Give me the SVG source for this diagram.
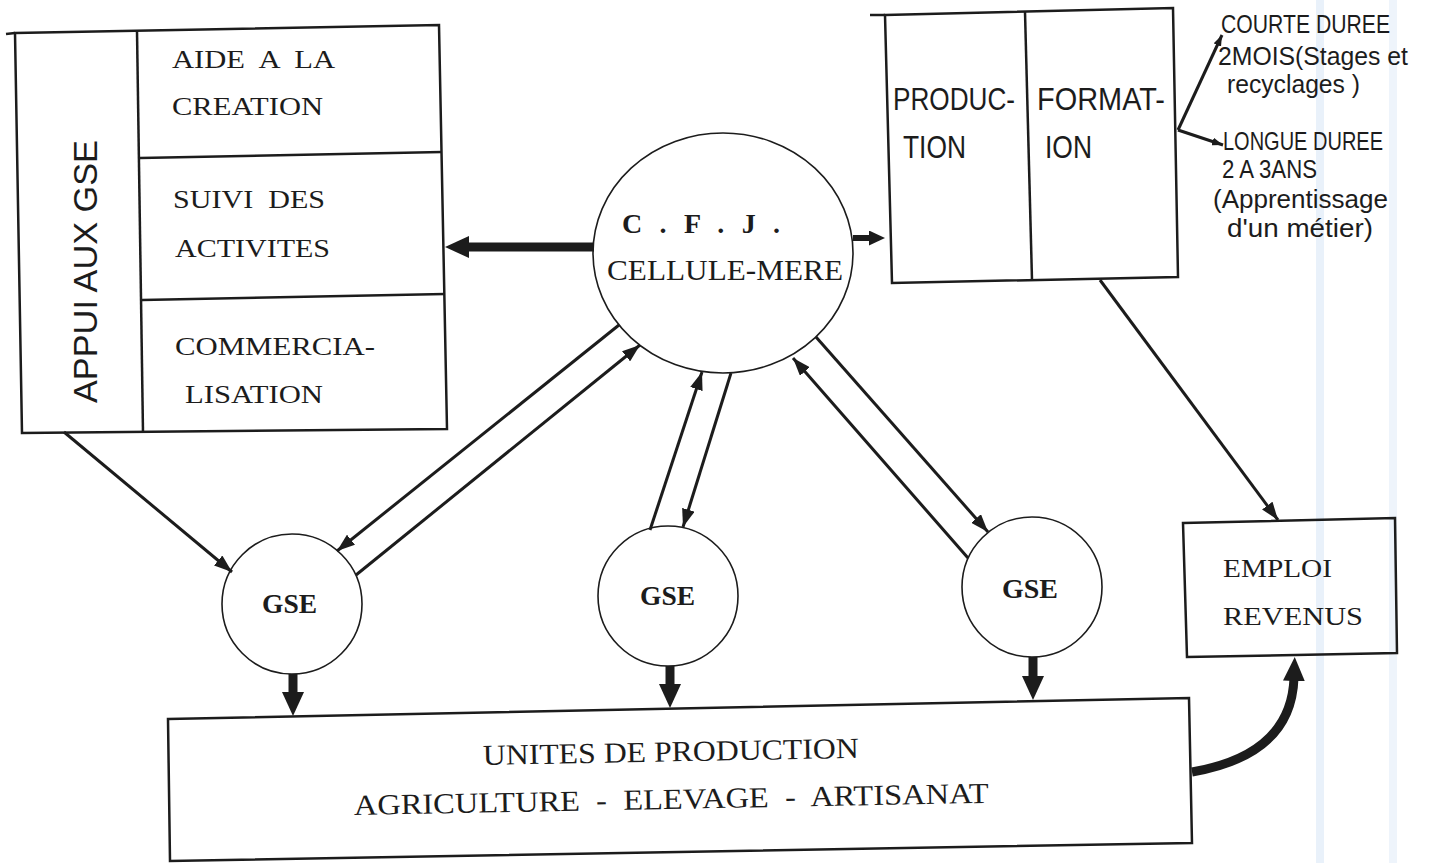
<svg xmlns="http://www.w3.org/2000/svg" width="1434" height="863" viewBox="0 0 1434 863">
<style>
.bx{fill:none;stroke:#1c1c1c;stroke-width:2.5;stroke-linejoin:miter}
.ci{fill:#fff;stroke:#1c1c1c;stroke-width:1.6}
.ln{fill:none;stroke:#1c1c1c;stroke-width:3}
.tk{fill:none;stroke:#1c1c1c;stroke-width:9}
.md{fill:none;stroke:#1c1c1c;stroke-width:6}
.sr{font-family:"Liberation Serif",serif;fill:#1c1c1c}
.ss{font-family:"Liberation Sans",sans-serif;fill:#1c1c1c}
</style>
<defs>
<marker id="ah" markerUnits="userSpaceOnUse" markerWidth="18" markerHeight="13" refX="18" refY="6.5" orient="auto"><path d="M0,0 L18,6.5 L0,13 Z" fill="#1c1c1c"/></marker>
<marker id="as" markerUnits="userSpaceOnUse" markerWidth="11" markerHeight="8" refX="11" refY="4" orient="auto"><path d="M0,0 L11,4 L0,8 Z" fill="#1c1c1c"/></marker>
<marker id="ab" markerUnits="userSpaceOnUse" markerWidth="24" markerHeight="22" refX="3" refY="11" orient="auto"><path d="M0,0 L24,11 L0,22 Z" fill="#1c1c1c"/></marker>
<marker id="am" markerUnits="userSpaceOnUse" markerWidth="16" markerHeight="15" refX="3" refY="7.5" orient="auto"><path d="M0,0 L16,7.5 L0,15 Z" fill="#1c1c1c"/></marker>
</defs>
<rect width="1434" height="863" fill="#fff"/>
<rect x="1316" y="0" width="8" height="863" fill="#e9f1fa"/>
<rect x="1389" y="0" width="8" height="863" fill="#eef4fb"/>

<g id="appui">
<polygon class="bx" points="15,33 439,25 447,429 22,433"/>
<line class="bx" x1="6" y1="34" x2="15" y2="33"/>
<line class="bx" x1="137" y1="31" x2="143" y2="432"/>
<line class="bx" x1="140" y1="158" x2="442" y2="152"/>
<line class="bx" x1="142" y1="300" x2="445" y2="294"/>
<text class="ss" font-size="34" transform="translate(97,403) rotate(-90)" textLength="263" lengthAdjust="spacingAndGlyphs">APPUI AUX GSE</text>
<text class="sr" font-size="26" x="172" y="68" textLength="163" lengthAdjust="spacingAndGlyphs" xml:space="preserve">AIDE  A  LA</text>
<text class="sr" font-size="26" x="172" y="115" textLength="151" lengthAdjust="spacingAndGlyphs">CREATION</text>
<text class="sr" font-size="26" x="173" y="208" textLength="152" lengthAdjust="spacingAndGlyphs" xml:space="preserve">SUIVI  DES</text>
<text class="sr" font-size="26" x="175" y="257" textLength="155" lengthAdjust="spacingAndGlyphs">ACTIVITES</text>
<text class="sr" font-size="26" x="175" y="355" textLength="200" lengthAdjust="spacingAndGlyphs">COMMERCIA-</text>
<text class="sr" font-size="26" x="185" y="403" textLength="138" lengthAdjust="spacingAndGlyphs">LISATION</text>
</g>

<g id="cfj">
<ellipse class="ci" cx="723" cy="253" rx="130" ry="120"/>
<text class="sr" font-size="28" font-weight="bold" x="622" y="233" textLength="158">C . F . J .</text>
<text class="sr" font-size="30" x="607" y="280" textLength="236" lengthAdjust="spacingAndGlyphs">CELLULE-MERE</text>
</g>

<g id="prodform">
<polygon class="bx" points="885,15 1173,8 1178,277 892,283"/>
<line class="bx" x1="870" y1="15" x2="885" y2="15"/>
<line class="bx" x1="1025" y1="12" x2="1032" y2="280"/>
<text class="ss" font-size="31" x="893" y="110" textLength="122" lengthAdjust="spacingAndGlyphs">PRODUC-</text>
<text class="ss" font-size="31" x="903" y="158" textLength="63" lengthAdjust="spacingAndGlyphs">TION</text>
<text class="ss" font-size="31" x="1037" y="110" textLength="128" lengthAdjust="spacingAndGlyphs">FORMAT-</text>
<text class="ss" font-size="31" x="1045" y="158" textLength="47" lengthAdjust="spacingAndGlyphs">ION</text>
</g>

<g id="courte">
<text class="ss" font-size="25" x="1221" y="33" textLength="169" lengthAdjust="spacingAndGlyphs">COURTE DUREE</text>
<text class="ss" font-size="25" x="1218" y="65" textLength="190" lengthAdjust="spacingAndGlyphs">2MOIS(Stages et</text>
<text class="ss" font-size="25" x="1227" y="93" textLength="133" lengthAdjust="spacingAndGlyphs">recyclages )</text>
</g>

<g id="longue">
<text class="ss" font-size="25" x="1223" y="150" textLength="160" lengthAdjust="spacingAndGlyphs">LONGUE DUREE</text>
<text class="ss" font-size="25" x="1222" y="178" textLength="95" lengthAdjust="spacingAndGlyphs">2 A 3ANS</text>
<text class="ss" font-size="25" x="1213" y="208" textLength="175" lengthAdjust="spacingAndGlyphs">(Apprentissage</text>
<text class="ss" font-size="25" x="1227" y="237" textLength="146" lengthAdjust="spacingAndGlyphs">d'un métier)</text>
</g>

<g id="gse1">
<circle class="ci" cx="292" cy="604" r="70"/>
<text class="sr" font-size="27" font-weight="bold" x="262" y="613" textLength="55" lengthAdjust="spacingAndGlyphs">GSE</text>
</g>
<g id="gse2">
<circle class="ci" cx="668" cy="596" r="70"/>
<text class="sr" font-size="27" font-weight="bold" x="640" y="605" textLength="55" lengthAdjust="spacingAndGlyphs">GSE</text>
</g>
<g id="gse3">
<circle class="ci" cx="1032" cy="587" r="70"/>
<text class="sr" font-size="27" font-weight="bold" x="1002" y="598" textLength="56" lengthAdjust="spacingAndGlyphs">GSE</text>
</g>

<g id="emploi">
<polygon class="bx" points="1183,523 1395,518 1397,653 1187,657"/>
<text class="sr" font-size="26" x="1223" y="577" textLength="109" lengthAdjust="spacingAndGlyphs">EMPLOI</text>
<text class="sr" font-size="26" x="1223" y="625" textLength="140" lengthAdjust="spacingAndGlyphs">REVENUS</text>
</g>

<g id="unites">
<polygon class="bx" points="168,719 1189,698 1192,843 170,861"/>
<text class="sr" font-size="29" x="483" y="765" textLength="376" lengthAdjust="spacingAndGlyphs" transform="rotate(-1.1 483 765)">UNITES DE PRODUCTION</text>
<text class="sr" font-size="29" x="354" y="815" textLength="635" lengthAdjust="spacingAndGlyphs" transform="rotate(-1.1 354 815)" xml:space="preserve">AGRICULTURE  -  ELEVAGE  -  ARTISANAT</text>
</g>

<g id="connectors">
<line class="tk" x1="594" y1="247" x2="466" y2="247" marker-end="url(#ab)"/>
<line class="md" x1="853" y1="238" x2="872" y2="238" marker-end="url(#am)"/>
<line class="ln" x1="64" y1="432" x2="232" y2="572" marker-end="url(#ah)"/>
<line class="ln" x1="619" y1="325" x2="337" y2="551" marker-end="url(#ah)"/>
<line class="ln" x1="356" y1="575" x2="640" y2="345" marker-end="url(#ah)"/>
<line class="ln" x1="650" y1="530" x2="702" y2="372" marker-end="url(#ah)"/>
<line class="ln" x1="731" y1="373" x2="683" y2="527" marker-end="url(#ah)"/>
<line class="ln" x1="816" y1="337" x2="988" y2="532" marker-end="url(#ah)"/>
<line class="ln" x1="968" y1="558" x2="793" y2="358" marker-end="url(#ah)"/>
<line class="ln" x1="1100" y1="280" x2="1278" y2="520" marker-end="url(#ah)"/>
<line class="ln" stroke-width="2" x1="1178" y1="130" x2="1222" y2="35" marker-end="url(#as)"/>
<line class="ln" stroke-width="2" x1="1178" y1="130" x2="1223" y2="145" marker-end="url(#as)"/>
<line class="tk" x1="293" y1="674" x2="293" y2="695" marker-end="url(#ab)"/>
<line class="tk" x1="670" y1="666" x2="670" y2="687" marker-end="url(#ab)"/>
<line class="tk" x1="1033" y1="657" x2="1033" y2="679" marker-end="url(#ab)"/>
<path class="tk" d="M1192,772 C1250,762 1292,735 1294,678" marker-end="url(#ab)"/>
</g>
</svg>
